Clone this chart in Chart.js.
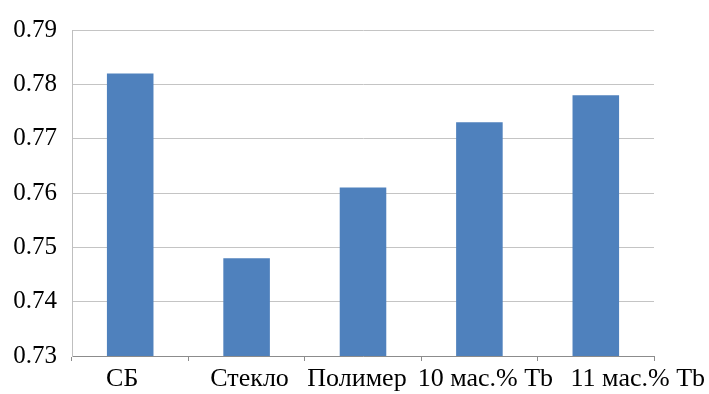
<!DOCTYPE html>
<html>
<head>
<meta charset="utf-8">
<script src="https://cdn.jsdelivr.net/npm/chart.js@4.4.1/dist/chart.umd.min.js"></script>
<style>
  html, body { margin: 0; padding: 0; background: #ffffff; }
  #wrap { width: 709px; height: 394px; position: relative; }
</style>
</head>
<body>
<div id="wrap"><canvas id="chart" width="709" height="394"></canvas></div>
<script>
// Sample names along the category axis
const categories = ['СБ', 'Стекло', 'Полимер', '10 мас.% Tb', '11 мас.% Tb'];
// Measured value for each sample
const values = [0.782, 0.748, 0.761, 0.773, 0.778];
// Value axis ticks
const yTicks = [0.73, 0.74, 0.75, 0.76, 0.77, 0.78, 0.79];

const FONT = "'Times New Roman', 'Liberation Serif', serif";
// Horizontal nudges (px) for the category captions, keeping long names apart
const captionShift = [-8, 3, -6, 6, 42];

// Draws the category captions under the axis, each placed at its category's pixel
const captionPlugin = {
  id: 'captions',
  afterDraw(chart) {
    const ctx = chart.ctx;
    const x = chart.scales.x;
    ctx.save();
    ctx.font = '26px ' + FONT;
    ctx.fillStyle = '#000000';
    ctx.textAlign = 'center';
    ctx.textBaseline = 'alphabetic';
    categories.forEach((name, i) => {
      ctx.fillText(name, x.getPixelForValue(i) + captionShift[i], chart.chartArea.bottom + 30);
    });
    ctx.restore();
  }
};

new Chart(document.getElementById('chart'), {
  type: 'bar',
  data: {
    labels: categories,
    datasets: [{
      data: values,
      backgroundColor: '#4F81BD',
      borderWidth: 0,
      categoryPercentage: 1.0,
      barPercentage: 0.4
    }]
  },
  options: {
    responsive: false,
    animation: false,
    layout: { padding: { top: 30, right: 55, bottom: 0, left: 0 } },
    plugins: { legend: { display: false }, tooltip: { enabled: false } },
    scales: {
      x: {
        offset: true,
        grid: {
          offset: true,
          drawOnChartArea: false,
          drawTicks: true,
          tickLength: 5,
          color: '#8c8c8c'
        },
        border: { color: '#8c8c8c', width: 1 },
        ticks: { display: false },
        afterFit(scale) { scale.height = 38; }
      },
      y: {
        min: yTicks[0],
        max: yTicks[yTicks.length - 1],
        afterBuildTicks(scale) { scale.ticks = yTicks.map(v => ({ value: v })); },
        grid: { color: '#c4c4c4', lineWidth: 1, drawTicks: false },
        border: { color: '#bfbfbf', width: 1 },
        ticks: {
          padding: 15,
          color: '#000000',
          font: { family: FONT, size: 25 },
          callback: (v) => Number(v).toFixed(2)
        },
        afterFit(scale) { scale.width = 72; }
      }
    }
  },
  plugins: [captionPlugin]
});
</script>
</body>
</html>
